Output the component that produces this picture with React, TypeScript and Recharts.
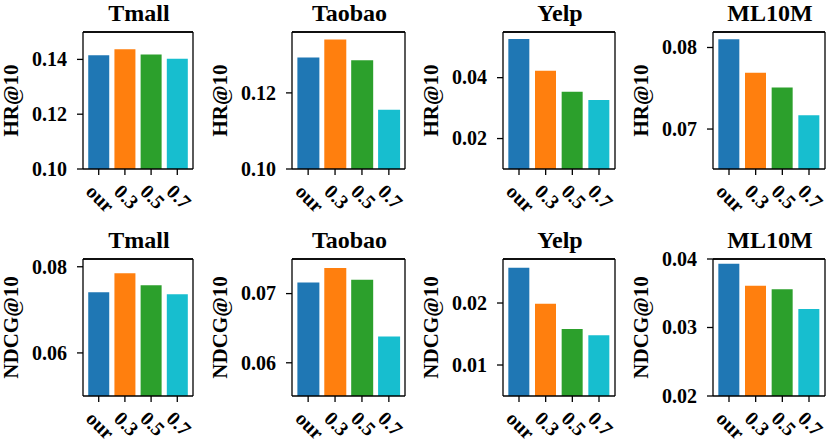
import React from 'react';
import { BarChart, Bar, XAxis, YAxis, Cell, ReferenceLine } from 'recharts';

const categories = ['our', '0.3', '0.5', '0.7'];
const colors = ['#1f77b4', '#ff7f0e', '#2ca02c', '#17becf'];

const tmallHR = [0.1415, 0.1437, 0.1418, 0.1402];
const taobaoHR = [0.1293, 0.134, 0.1286, 0.1156];
const yelpHR = [0.0527, 0.0423, 0.0354, 0.0327];
const ml10mHR = [0.081, 0.0769, 0.0751, 0.0717];

const tmallNDCG = [0.0741, 0.0785, 0.0757, 0.0736];
const taobaoNDCG = [0.0716, 0.0737, 0.072, 0.0638];
const yelpNDCG = [0.0257, 0.0199, 0.0158, 0.0148];
const ml10mNDCG = [0.0393, 0.0361, 0.0356, 0.0327];

const datasets = ['Tmall', 'Taobao', 'Yelp', 'ML10M'];
const metrics = ['HR@10', 'NDCG@10'];

const hrDomains: [number, number][] = [[0.1, 0.15], [0.1, 0.136], [0.01, 0.055], [0.0651, 0.0819]];
const ndcgDomains: [number, number][] = [[0.05, 0.0818], [0.0552, 0.075], [0.005, 0.0271], [0.02, 0.04]];
const hrTicks = [[0.1, 0.12, 0.14], [0.1, 0.12], [0.02, 0.04], [0.07, 0.08]];
const ndcgTicks = [[0.06, 0.08], [0.06, 0.07], [0.01, 0.02], [0.02, 0.03, 0.04]];

const rows = [
  { values: [tmallHR, taobaoHR, yelpHR, ml10mHR], domains: hrDomains, ticks: hrTicks },
  { values: [tmallNDCG, taobaoNDCG, yelpNDCG, ml10mNDCG], domains: ndcgDomains, ticks: ndcgTicks },
];

// layout
const FONT = "'Liberation Serif', 'Times New Roman', serif";
const frameLefts = [83, 292, 503, 713];
const frameWidths = [110, 113, 112, 112];
const frameTops = [32, 259];
const PLOT_H = 137;
const YAXIS_W = 83;
const XAXIS_H = 60;
const TOP_M = 40;
const RIGHT_M = 6;

const charW: Record<string, number> = { o: 0.5, u: 0.556, r: 0.444, '.': 0.25 };

const textStyle = { fontFamily: FONT, fontWeight: 700 as const, fill: '#000' };

function XTick(props: any) {
  const { x, y, payload } = props;
  const label = String(payload.value);
  let w = 0;
  for (const c of label) w += (charW[c] ?? 0.5) * 20;
  const cy = y + 8 + (w + 18) * 0.354;
  return (
    <text
      transform={`translate(${x - 3.3},${cy + 3.3}) rotate(45)`}
      textAnchor="middle"
      fontSize={20}
      style={textStyle}
    >
      {label}
    </text>
  );
}

function YTick(props: any) {
  const { x, y, payload } = props;
  return (
    <text x={x} y={y} dy="0.34em" textAnchor="end" fontSize={20} style={textStyle}>
      {Number(payload.value).toFixed(2)}
    </text>
  );
}

function PanelLabels(props: any) {
  const { viewBox, title, ylabel, plotW } = props;
  const vb = viewBox || { x: 0, y: TOP_M, width: YAXIS_W, height: PLOT_H };
  const plotLeft = vb.x + vb.width;
  const cy = vb.y + vb.height / 2;
  const lx = plotLeft - 65;
  return (
    <g>
      <text
        x={lx}
        y={cy}
        transform={`rotate(-90, ${lx}, ${cy})`}
        textAnchor="middle"
        fontSize={21}
        style={textStyle}
      >
        {ylabel}
      </text>
      <text
        x={plotLeft + plotW / 2 + 1}
        y={vb.y - 11.5}
        textAnchor="middle"
        fontSize={24}
        style={textStyle}
      >
        {title}
      </text>
    </g>
  );
}

function Panel({ row, col }: { row: number; col: number }) {
  const r = rows[row];
  const vals = r.values[col];
  const data = categories.map((name, i) => ({ name, value: vals[i] }));
  const plotW = frameWidths[col];
  const width = YAXIS_W + plotW + 1 + RIGHT_M;
  const height = TOP_M + PLOT_H + XAXIS_H;
  const axisStroke = { stroke: '#000', strokeWidth: 1.3 };
  const dom = r.domains[col];
  return (
    <div
      style={{
        position: 'absolute',
        left: frameLefts[col] - YAXIS_W,
        top: frameTops[row] - TOP_M,
        width,
        height,
      }}
    >
      <BarChart
        width={width}
        height={height}
        data={data}
        margin={{ top: TOP_M - 1, right: RIGHT_M, bottom: 0, left: 0 }}
        barCategoryGap="10%"
      >
        <XAxis
          dataKey="name"
          height={XAXIS_H}
          padding={{ left: plotW / 42, right: plotW / 42 }}
          axisLine={axisStroke}
          tickLine={axisStroke}
          tickSize={6}
          tickMargin={0}
          tick={<XTick />}
          interval={0}
        />
        <XAxis
          xAxisId="top"
          dataKey="name"
          orientation="top"
          height={1}
          padding={{ left: plotW / 42, right: plotW / 42 }}
          axisLine={axisStroke}
          tick={false}
          tickLine={false}
        />
        <YAxis
          width={YAXIS_W}
          domain={dom}
          allowDataOverflow
          ticks={r.ticks[col]}
          interval={0}
          axisLine={axisStroke}
          tickLine={axisStroke}
          tickSize={6}
          tickMargin={10}
          tick={<YTick />}
          label={<PanelLabels title={datasets[col]} ylabel={metrics[row]} plotW={plotW} />}
        />
        <YAxis
          yAxisId="right"
          orientation="right"
          width={1}
          domain={dom}
          allowDataOverflow
          axisLine={axisStroke}
          tick={false}
          tickLine={false}
        />
        <ReferenceLine y={dom[1]} stroke="#000" strokeWidth={1.3} ifOverflow="visible" />
        <Bar dataKey="value" isAnimationActive={false}>
          {data.map((d, i) => (
            <Cell key={d.name} fill={colors[i]} />
          ))}
        </Bar>
        <Bar dataKey="value" xAxisId="top" yAxisId="right" fill="none" isAnimationActive={false} />
      </BarChart>
    </div>
  );
}

export default function App() {
  return (
    <div
      style={{
        position: 'absolute',
        left: 0,
        top: 0,
        width: 830,
        height: 442,
        overflow: 'hidden',
        background: '#fff',
      }}
    >
      {[0, 1].map((row) =>
        [0, 1, 2, 3].map((col) => <Panel key={`${row}-${col}`} row={row} col={col} />)
      )}
    </div>
  );
}
